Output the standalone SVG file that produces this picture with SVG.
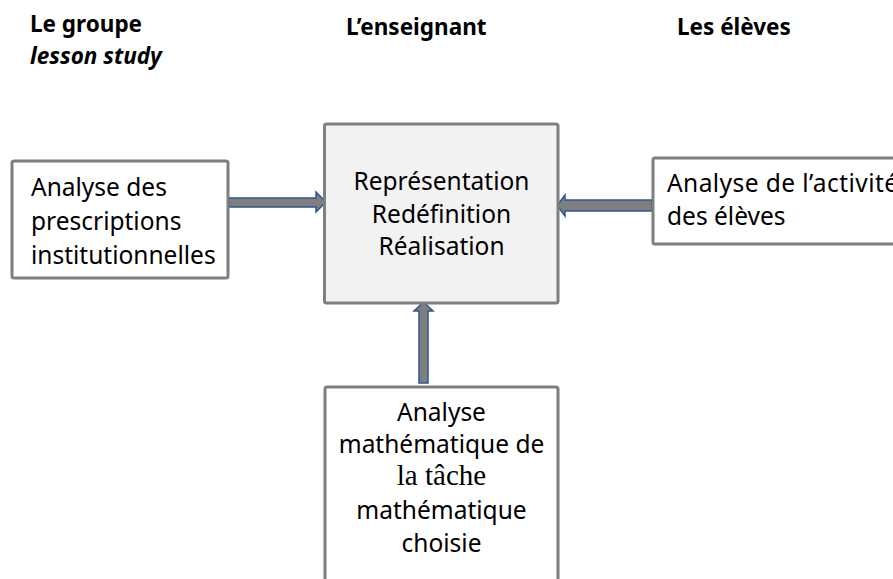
<svg xmlns="http://www.w3.org/2000/svg" width="893" height="579" viewBox="0 0 893 579">
<style>
.box{fill:#ffffff;stroke:#7f7f7f;stroke-width:3}
.main{fill:#f2f2f2}
.t{font-family:"Noto Sans","Open Sans",sans-serif;font-size:24.5px;fill:#000}
.c{text-anchor:middle}
.h{font-family:"Noto Sans","Open Sans",sans-serif;font-size:22.5px;font-weight:bold;fill:#000}
.serif{font-family:"Liberation Serif","Times New Roman",serif;font-size:29px}
.arrow{fill:#7f7f7f;stroke:#2f5597;stroke-width:1.5;stroke-linejoin:miter}
</style>
<rect width="893" height="579" fill="#ffffff"/>
<g id="headers">
<text class="h" x="30" y="32">Le groupe</text>
<text class="h" x="30" y="64" font-style="italic">lesson study</text>
<text class="h" x="346" y="35">L’enseignant</text>
<text class="h" x="677" y="35">Les élèves</text>
</g>
<g id="connectors">
<polygon class="arrow" points="229,198 316,198 316,192 326,202 316,212 316,207 229,207"/>
<polygon class="arrow" points="652,200 565,200 565,195 557,205.5 565,216 565,211 652,211"/>
<polygon class="arrow" points="419,383 419,311 414,311 423.5,302 433,311 428,311 428,383"/>
</g>
<g id="node-prescriptions">
<rect class="box" x="12" y="161" width="216" height="117" rx="2"/>
<text class="t" x="31" y="196">Analyse des</text>
<text class="t" x="31" y="230">prescriptions</text>
<text class="t" x="31" y="264">institutionnelles</text>
</g>
<g id="node-enseignant">
<rect class="box main" x="324.5" y="124" width="233.5" height="179" rx="2"/>
<text class="t c" x="441.5" y="190">Représentation</text>
<text class="t c" x="441.5" y="222.5">Redéfinition</text>
<text class="t c" x="441.5" y="255">Réalisation</text>
</g>
<g id="node-eleves">
<rect class="box" x="653" y="158" width="260" height="86" rx="2"/>
<text class="t" x="667" y="192" textLength="231" lengthAdjust="spacing">Analyse de l’activité</text>
<text class="t" x="667" y="225">des élèves</text>
</g>
<g id="node-tache">
<rect class="box" x="325" y="387" width="233" height="220" rx="2"/>
<text class="t c" x="441.5" y="421">Analyse</text>
<text class="t c" x="441.5" y="453">mathématique de</text>
<text class="c serif" x="441.5" y="485">la tâche</text>
<text class="t c" x="441.5" y="519">mathématique</text>
<text class="t c" x="441.5" y="552">choisie</text>
</g>
</svg>
